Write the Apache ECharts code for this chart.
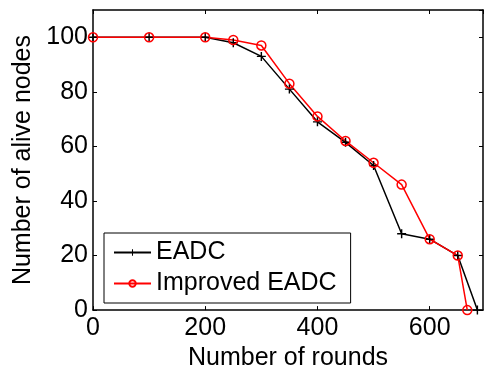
<!DOCTYPE html>
<html>
<head>
<meta charset="utf-8">
<script src="https://cdn.jsdelivr.net/npm/echarts@6/dist/echarts.min.js"></script>
<style>
  html, body { margin: 0; padding: 0; background: #fff; }
  #main { width: 484px; height: 376px; }
</style>
</head>
<body>
<div id="main"></div>
<script>
// rounds (x) and alive nodes (y)
const eadcRounds = [0, 100, 200, 250, 300, 350, 400, 450, 500, 550, 600, 650, 685];
const eadcAlive = [100, 100, 100, 98, 93, 81, 69, 61.5, 53, 28, 26, 20, 0];
const improvedRounds = [0, 100, 200, 250, 300, 350, 400, 450, 500, 550, 600, 650, 667];
const improvedAlive = [100, 100, 100, 99, 97, 83, 71, 62, 54, 46, 26, 20, 0];
const seriesNames = ['EADC', 'Improved EADC'];

const pair = (xs, ys) => xs.map((x, i) => [x, ys[i]]);
const plusPath = 'path://M4.2,0H5.8V4.2H10V5.8H5.8V10H4.2V5.8H0V4.2H4.2Z';
const font = 'Liberation Sans, Arial, sans-serif';

const chart = echarts.init(document.getElementById('main'));

const tickInside = { show: true, inside: true, length: 4, lineStyle: { color: '#000', width: 1 } };
const axisLine = { show: true, onZero: false, lineStyle: { color: '#000', width: 1.5 } };

chart.setOption({
  animation: false,
  backgroundColor: '#fff',
  grid: { left: 93, top: 10, right: 1, bottom: 59 },
  legend: {
    orient: 'vertical',
    left: 104,
    top: 233,
    padding: [7, 14, 7, 9],
    itemGap: 6,
    itemWidth: 37,
    itemHeight: 8,
    borderColor: '#000',
    borderWidth: 1,
    backgroundColor: '#fff',
    textStyle: { fontFamily: font, fontSize: 25, color: '#000' },
    data: seriesNames
  },
  xAxis: [{
    type: 'value',
    min: 0, max: 695, interval: 200,
    axisLine: axisLine,
    axisTick: tickInside,
    splitLine: { show: false },
    axisLabel: { fontFamily: font, fontSize: 25, color: '#000', margin: 6, showMaxLabel: false },
    name: 'Number of rounds',
    nameLocation: 'middle',
    nameGap: 33,
    nameTextStyle: { fontFamily: font, fontSize: 25, color: '#000' }
  }, {
    type: 'value', position: 'top',
    min: 0, max: 695, interval: 200,
    axisLine: axisLine,
    axisTick: tickInside,
    axisLabel: { show: false },
    splitLine: { show: false }
  }],
  yAxis: [{
    type: 'value',
    min: 0, max: 110, interval: 20,
    axisLine: axisLine,
    axisTick: tickInside,
    splitLine: { show: false },
    axisLabel: { fontFamily: font, fontSize: 25, color: '#000', margin: 5, showMaxLabel: false },
    name: 'Number of alive nodes',
    nameLocation: 'middle',
    nameGap: 56,
    nameTextStyle: { fontFamily: font, fontSize: 25, color: '#000' }
  }, {
    type: 'value', position: 'right',
    min: 0, max: 110, interval: 20,
    axisLine: axisLine,
    axisTick: tickInside,
    axisLabel: { show: false },
    splitLine: { show: false }
  }],
  series: [{
    name: seriesNames[0],
    type: 'line',
    data: pair(eadcRounds, eadcAlive),
    symbol: plusPath,
    symbolSize: 9,
    itemStyle: { color: '#000' },
    lineStyle: { color: '#000', width: 1.5 }
  }, {
    name: seriesNames[1],
    type: 'line',
    data: pair(improvedRounds, improvedAlive),
    symbol: 'circle',
    symbolSize: 9,
    itemStyle: { color: 'transparent', borderColor: '#ff0000', borderWidth: 1.5 },
    lineStyle: { color: '#ff0000', width: 1.5 }
  }]
});
</script>
</body>
</html>
